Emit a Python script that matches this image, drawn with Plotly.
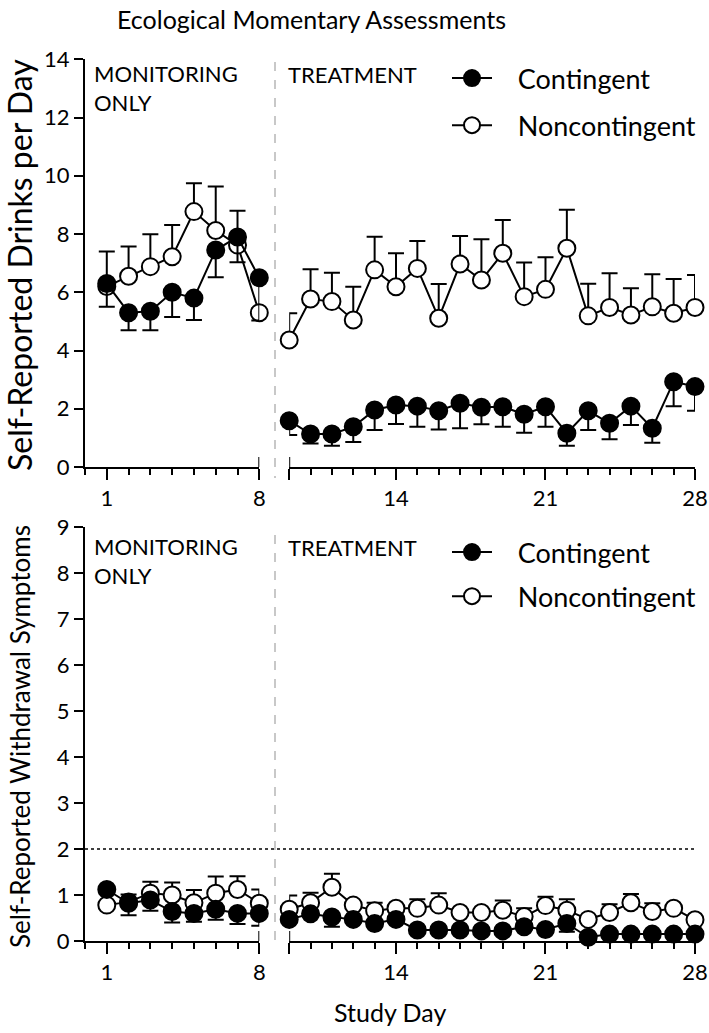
import plotly.graph_objects as go

# ---------------- data ----------------
days_mon = [1, 2, 3, 4, 5, 6, 7, 8]
days_trt = list(range(9, 29))

# Drinks per day (top panel)
drinks_cont = [6.30, 5.30, 5.35, 6.00, 5.80, 7.45, 7.90, 6.50,
               1.59, 1.13, 1.13, 1.38, 1.96, 2.13, 2.09, 1.93, 2.19, 2.05,
               2.07, 1.81, 2.07, 1.16, 1.93, 1.50, 2.09, 1.33, 2.93, 2.76]
drinks_cont_err = [0.80, 0.60, 0.65, 0.85, 0.75, 0.93, 0.87, 1.47,
                   0.49, 0.32, 0.40, 0.52, 0.69, 0.65, 0.71, 0.64, 0.86, 0.58,
                   0.69, 0.63, 0.69, 0.43, 0.66, 0.55, 0.65, 0.50, 0.84, 0.83]
drinks_non = [6.20, 6.55, 6.88, 7.22, 8.77, 8.12, 7.62, 5.30,
              4.36, 5.77, 5.68, 5.05, 6.77, 6.19, 6.82, 5.11, 6.97, 6.42,
              7.34, 5.85, 6.10, 7.51, 5.19, 5.48, 5.22, 5.50, 5.28, 5.48]
drinks_non_err = [1.20, 1.02, 1.11, 1.09, 0.97, 1.51, 1.18, 0.15,
                  0.92, 1.02, 0.99, 1.14, 1.14, 1.15, 0.94, 1.17, 0.96, 1.40,
                  1.14, 1.17, 1.10, 1.32, 1.10, 1.17, 0.92, 1.12, 1.18, 1.11]

# Withdrawal symptoms (bottom panel)
wd_cont = [1.12, 0.82, 0.89, 0.64, 0.60, 0.69, 0.60, 0.60,
           0.47, 0.59, 0.52, 0.47, 0.38, 0.47, 0.24, 0.24, 0.24, 0.22,
           0.22, 0.31, 0.25, 0.38, 0.08, 0.15, 0.15, 0.15, 0.15, 0.15]
wd_cont_err = [0.10, 0.26, 0.23, 0.24, 0.18, 0.23, 0.23, 0.27,
               0.05, 0.05, 0.21, 0.05, 0.05, 0.05, 0.05, 0.05, 0.05, 0.05,
               0.05, 0.05, 0.05, 0.18, 0.05, 0.05, 0.05, 0.05, 0.05, 0.05]
wd_non = [0.78, 0.85, 1.04, 1.00, 0.83, 1.04, 1.12, 0.82,
          0.69, 0.83, 1.17, 0.78, 0.66, 0.71, 0.71, 0.78, 0.62, 0.62,
          0.67, 0.53, 0.77, 0.67, 0.47, 0.62, 0.83, 0.64, 0.71, 0.46]
wd_non_err = [0.08, 0.16, 0.25, 0.27, 0.28, 0.36, 0.29, 0.30,
              0.30, 0.22, 0.29, 0.05, 0.17, 0.05, 0.20, 0.26, 0.05, 0.05,
              0.21, 0.18, 0.19, 0.24, 0.05, 0.18, 0.19, 0.18, 0.05, 0.05]

withdrawal_threshold = 2

series_names = ["Contingent", "Noncontingent"]
phase_labels = ["MONITORING<br>ONLY", "TREATMENT"]

FONT = "Lato"
W, H = 709, 1033


def px_x(p):
    return p / W


def px_y(p):
    return 1 - p / H


fig = go.Figure()

panels = [
    dict(vals=(drinks_cont, drinks_non), errs=(drinks_cont_err, drinks_non_err),
         xl="x", xr="x2", y="y", legend="legend"),
    dict(vals=(wd_cont, wd_non), errs=(wd_cont_err, wd_non_err),
         xl="x3", xr="x4", y="y2", legend="legend2"),
]

PAD = "\u00a0" * 3
n_mon = len(days_mon)
for pi, p in enumerate(panels):
    # noncontingent first (under), then contingent
    for si in (1, 0):
        vals = p["vals"][si]
        errs = p["errs"][si]
        filled = si == 0
        for seg, (xa, days, sl) in enumerate([
            (p["xl"], days_mon, slice(0, n_mon)),
            (p["xr"], days_trt, slice(n_mon, None)),
        ]):
            v = vals[sl]
            e = errs[sl]
            zeros = [0] * len(e)
            fig.add_trace(go.Scatter(
                x=days, y=v, xaxis=xa, yaxis=p["y"],
                mode="lines+markers",
                name=PAD + series_names[si],
                legend=p["legend"],
                legendgroup=f"{p['legend']}_{si}",
                legendrank=si + 1,
                showlegend=(seg == 0),
                line=dict(color="black", width=2),
                marker=dict(symbol="circle", size=17,
                            color="black" if filled else "white",
                            line=dict(color="black", width=2)),
                error_y=dict(type="data", symmetric=False,
                             array=zeros if filled else e,
                             arrayminus=e if filled else zeros,
                             color="black", thickness=2, width=8),
                cliponaxis=False,
                hoverinfo="skip",
            ))

dom_left = [px_x(85), px_x(259.3)]
dom_right = [px_x(289.2), px_x(695)]
dom_top = [px_y(467), px_y(59.3)]
dom_bot = [px_y(941), px_y(527)]

axis_common = dict(showline=True, linecolor="black", linewidth=2,
                   ticks="outside", tickcolor="black", tickwidth=2,
                   showgrid=False, zeroline=False, automargin=False,
                   tickfont=dict(family=FONT, size=22, color="black"))

xl_common = dict(axis_common, range=[0, 8], tickvals=[1, 8], ticktext=["1", "8"],
                 ticklen=11,
                 minor=dict(dtick=1, tick0=0, ticks="outside", ticklen=6,
                            tickwidth=2, tickcolor="black"),
                 domain=dom_left)
xr_common = dict(axis_common, range=[9, 28], tickvals=[9, 14, 21, 28],
                 ticktext=["", "14", "21", "28"], ticklen=11,
                 ticklabeloverflow="allow",
                 minor=dict(dtick=1, tick0=0, ticks="outside", ticklen=6,
                            tickwidth=2, tickcolor="black"),
                 domain=dom_right)

legend_font = dict(family=FONT, size=27, color="black")
fig.update_layout(
    width=W, height=H,
    margin=dict(l=0, r=0, t=0, b=0, pad=0, autoexpand=False),
    paper_bgcolor="white", plot_bgcolor="white",
    font=dict(family=FONT, color="black"),
    hovermode=False,
    xaxis=dict(xl_common, anchor="y"),
    xaxis2=dict(xr_common, anchor="y"),
    xaxis3=dict(xl_common, anchor="y2"),
    xaxis4=dict(xr_common, anchor="y2"),
    yaxis=dict(axis_common, range=[0, 14], tickvals=list(range(0, 15, 2)),
               ticklen=9, domain=dom_top, anchor="x"),
    yaxis2=dict(axis_common, range=[0, 9], tickvals=list(range(0, 10)),
                ticklen=9, domain=dom_bot, anchor="x3"),
    legend=dict(x=px_x(447), y=px_y(54), xanchor="left", yanchor="top",
                font=legend_font, traceorder="grouped", tracegroupgap=9,
                bgcolor="rgba(0,0,0,0)", itemwidth=40),
    legend2=dict(x=px_x(447), y=px_y(528), xanchor="left", yanchor="top",
                 font=legend_font, traceorder="grouped", tracegroupgap=6,
                 bgcolor="rgba(0,0,0,0)", itemwidth=40),
    showlegend=True,
)

# Title and axis titles as annotations
ann = [
    dict(text="Ecological Momentary Assessments", x=px_x(311), y=px_y(19),
         xref="paper", yref="paper", showarrow=False, xanchor="center",
         yanchor="middle", font=dict(family=FONT, size=25, color="black")),
    dict(text="Self-Reported Drinks per Day", x=px_x(19), y=px_y(265),
         xref="paper", yref="paper", showarrow=False, textangle=-90,
         xanchor="center", yanchor="middle",
         font=dict(family=FONT, size=32, color="black")),
    dict(text="Self-Reported Withdrawal Symptoms", x=px_x(20), y=px_y(737),
         xref="paper", yref="paper", showarrow=False, textangle=-90,
         xanchor="center", yanchor="middle",
         font=dict(family=FONT, size=26, color="black")),
    dict(text="Study Day", x=px_x(390), y=px_y(1012),
         xref="paper", yref="paper", showarrow=False,
         xanchor="center", yanchor="middle",
         font=dict(family=FONT, size=25, color="black")),
]
for mid_px in (88, 561):
    ann.append(dict(text=phase_labels[0], x=px_x(92), y=px_y(mid_px),
                    xref="paper", yref="paper", showarrow=False, align="left",
                    xanchor="left", yanchor="middle",
                    font=dict(family=FONT, size=22, color="black")))
    ann.append(dict(text=phase_labels[1], x=px_x(286), y=px_y(mid_px - 14),
                    xref="paper", yref="paper", showarrow=False, align="left",
                    xanchor="left", yanchor="middle",
                    font=dict(family=FONT, size=22, color="black")))
fig.update_layout(annotations=ann)

shapes = []
# dashed phase separators
for y0, y1 in ((62, 478), (535, 948)):
    shapes.append(dict(type="line", xref="paper", yref="paper",
                       x0=px_x(275), x1=px_x(275), y0=px_y(y0), y1=px_y(y1),
                       line=dict(color="#c8c8c8", width=2, dash="dash")))
# dotted threshold line in bottom panel
shapes.append(dict(type="line", xref="paper", yref="y2",
                   x0=px_x(85), x1=px_x(695),
                   y0=withdrawal_threshold, y1=withdrawal_threshold,
                   line=dict(color="black", width=1.5, dash="dot")))
# upward end caps at axis breaks
for xa, xv, ya, ymax in (("x", 8, "y", 14), ("x2", 9, "y", 14),
                         ("x3", 8, "y2", 9), ("x4", 9, "y2", 9)):
    shapes.append(dict(type="line", xref=xa, yref=ya, x0=xv, x1=xv,
                       y0=0, y1=ymax * 10 / 410,
                       line=dict(color="black", width=2)))
fig.update_layout(shapes=shapes)

fig.write_html(
    "out.html",
    config={"displayModeBar": False, "responsive": False},
    post_script="document.body.style.margin='0px';"
                "document.body.style.overflow='hidden';"
                "document.documentElement.style.overflow='hidden';",
)
